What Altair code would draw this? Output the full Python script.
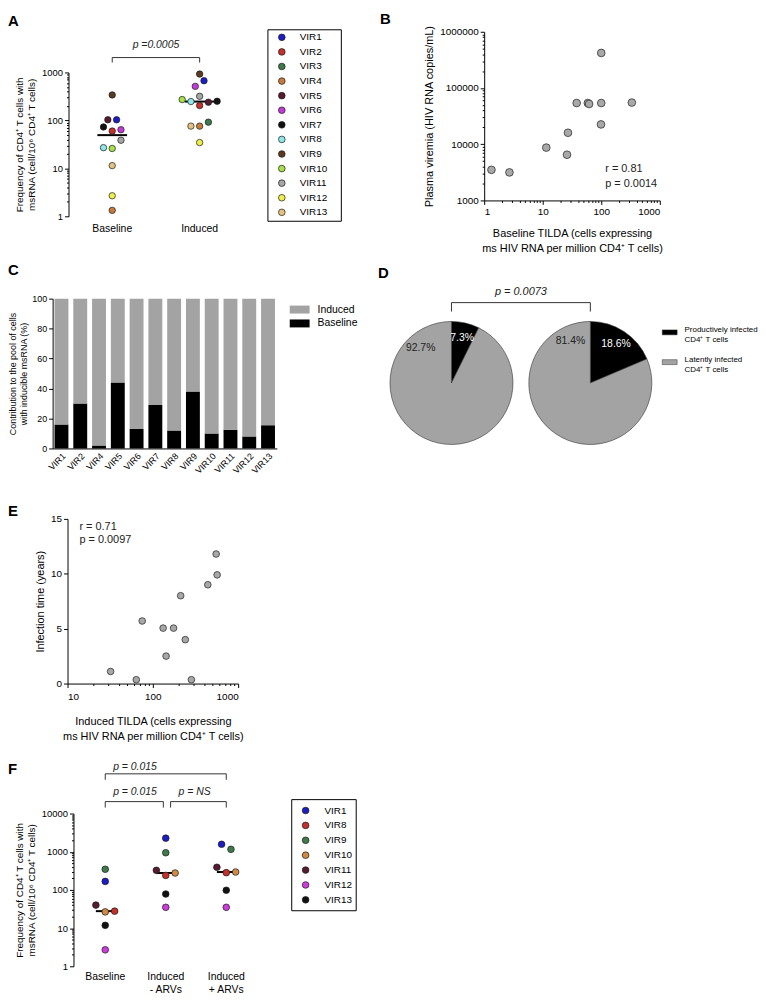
import json
import altair as alt
import pandas as pd

FONT = "Liberation Sans"

# ---------------- Panel A ----------------
vir_ids = ["VIR1", "VIR2", "VIR3", "VIR4", "VIR5", "VIR6", "VIR7",
           "VIR8", "VIR9", "VIR10", "VIR11", "VIR12", "VIR13"]
vir_colors = ["#1d1dc4", "#c4302b", "#3e7a4b", "#c47b3b", "#571b31", "#c13bd6",
              "#111111", "#8fe6e6", "#5b3a20", "#a5e04b", "#a6a6a6", "#efef4a", "#e3c27f"]
a_groups = ["Baseline", "Induced"]
a_baseline = [103, 60, None, 1.33, 103, 64, 73, 27, 340, 26, 38.6, 2.68, 11.4]
a_baseline_slot = [0.5, 0, None, 0, -0.5, 1, -1, -1, 0, 0, 1, 0, 0]
a_induced = [672, 204, 92, 76, 240, 513, 251, 247, 925, 272, 318, 34.5, 76]
a_induced_slot = [0.5, 0, 1, 0, 1, -0.5, 2, -1, 0, -2, 0, 0, -1]
a_brackets = [(0, 1, "p =0.0005")]

# ---------------- Panel B ----------------
b_tilda = [1.33, 2.7, 11.5, 26, 27, 38, 59, 62, 99, 100, 100, 333]
b_viremia = [3500, 3150, 8700, 6500, 16000, 54000, 54000, 52000, 22500, 420000, 54000, 55000]
b_stats = ["r = 0.81", "p = 0.0014"]

# ---------------- Panel C ----------------
c_ids = ["VIR1", "VIR2", "VIR4", "VIR5", "VIR6", "VIR7", "VIR8", "VIR9",
         "VIR10", "VIR11", "VIR12", "VIR13"]
c_baseline_pct = [16, 30, 2, 44, 13, 29, 12, 38, 10, 12.5, 8, 15.5]
c_parts = ["Induced", "Baseline"]

# ---------------- Panel D ----------------
d_groups = ["ART", "VIR"]
d_states = ["Productively infected|CD4\u207a T cells", "Latently infected|CD4\u207a T cells"]
d_productive = [7.3, 18.6]
d_latent = [92.7, 81.4]
d_brackets = [("ART", "VIR", "p = 0.0073")]

# ---------------- Panel E ----------------
e_induced = [552, 567, 441, 212, 75, 132, 175, 240, 143, 32, 64, 283]
e_years = [11.8, 9.9, 9.0, 8.0, 5.7, 5.05, 5.05, 4.0, 2.5, 1.1, 0.35, 0.35]
e_stats = ["r = 0.71", "p = 0.0097"]

# ---------------- Panel F ----------------
f_ids = ["VIR1", "VIR8", "VIR9", "VIR10", "VIR11", "VIR12", "VIR13"]
f_colors = ["#1d1dc4", "#c4302b", "#3e7a4b", "#d08a44", "#571b31", "#cc3ddc", "#111111"]
f_groups = ["Baseline", "Induced|- ARVs", "Induced|+ ARVs"]
f_baseline = [167, 27.8, 347, 26.6, 40, 2.7, 11.8]
f_baseline_slot = [0, 1, 0, 0, -1, 0, 0]
f_minus = [2260, 240, 940, 277, 326, 35, 78]
f_minus_slot = [0, 0, 0, 1, -1, 0, 0]
f_plus = [1566, 283, 1153, 294, 392, 35, 98]
f_plus_slot = [-0.5, 0, 0.5, 1, -1, 0, 0]
f_brackets_top = [(0, 2, "p = 0.015")]
f_brackets_low = [(0, 1, "p = 0.015"), (1, 2, "p = NS")]

FREQ_TITLE = ["Frequency of CD4\u207a T cells with", "msRNA (cell/10\u2076 CD4\u207a T cells)"]
TILDA_TAIL = "ms HIV RNA per million CD4\u207a T cells)"

ONE = pd.DataFrame({"k": [0]})


def minor_log(lo, hi):
    out = []
    for e in range(lo, hi):
        for m in range(2, 10):
            out.append(m * 10 ** e)
    return out


def letter(ch, x, y):
    return alt.Chart(ONE).mark_text(
        text=ch, align="left", baseline="top", fontSize=15, fontWeight="bold",
        font=FONT, color="black").encode(x=alt.value(x), y=alt.value(y))


def spacer(y):
    return alt.Chart(ONE).mark_rule(opacity=0).encode(
        x=alt.value(0), y=alt.value(y), y2=alt.value(y + 1))


def category_labels(names, xscale, y):
    df = pd.DataFrame({"gi": list(range(len(names))), "name": names})
    return alt.Chart(df).mark_text(
        align="center", baseline="top", fontSize=10.5, lineHeight=13, lineBreak="|",
        font=FONT, color="black").encode(
        x=alt.X("gi:Q", scale=xscale, axis=None), y=alt.value(y), text="name:N")


def bracket_layers(df, xscale, y_line, y_leg, y_text, align="center", dx=0, fsize=10.5):
    line = alt.Chart(df).mark_rule(color="#333333", strokeWidth=1).encode(
        x=alt.X("x1:Q", scale=xscale, axis=None),
        x2=alt.X2("x2"),
        y=alt.value(y_line))
    legs = alt.Chart(df).transform_fold(["x1", "x2"], as_=["side", "xv"]).mark_rule(
        color="#333333", strokeWidth=1).encode(
        x=alt.X("xv:Q", scale=xscale, axis=None),
        y=alt.value(y_line), y2=alt.value(y_leg))
    if align == "center":
        base = alt.Chart(df).transform_calculate(xm="(datum.x1 + datum.x2) / 2")
        xenc = alt.X("xm:Q", scale=xscale, axis=None)
    else:
        base = alt.Chart(df)
        xenc = alt.X("x1:Q", scale=xscale, axis=None)
    text = base.mark_text(align=align, dx=dx, baseline="middle", fontStyle="italic",
                          fontSize=fsize, font=FONT, color="#222222").encode(
        x=xenc, y=alt.value(y_text), text="label:N")
    return [line, legs, text]


def circle_legend(ids, colors, box_x, box_w, box_y0, box_y1, cx, tx, y_first, y_last):
    df = pd.DataFrame({"vir": ids})
    box = alt.Chart(ONE).mark_rect(fillOpacity=0, stroke="black", strokeWidth=1).encode(
        x=alt.value(box_x), x2=alt.value(box_x + box_w),
        y=alt.value(box_y0), y2=alt.value(box_y1))
    ys = alt.Scale(type="point", domain=ids, range=[y_first, y_last], padding=0)
    dots = alt.Chart(df).mark_circle(size=45, opacity=1, stroke="#1a1a1a",
                                     strokeWidth=0.7).encode(
        x=alt.value(cx), y=alt.Y("vir:N", scale=ys, axis=None),
        color=alt.Color("vir:N", scale=alt.Scale(domain=ids, range=colors), legend=None))
    texts = alt.Chart(df).mark_text(align="left", baseline="middle", fontSize=10,
                                    font=FONT, color="black").encode(
        x=alt.value(tx), y=alt.Y("vir:N", scale=ys, axis=None), text="vir:N")
    return [box, dots, texts]


def point_rows(ids, series):
    rows = []
    for gi, (vals, slots) in enumerate(series):
        for vid, val, sl in zip(ids, vals, slots):
            if val is not None:
                rows.append({"vir": vid, "gi": gi, "value": val, "slot": sl})
    return pd.DataFrame(rows)


# ======================= A =======================
SA = 16
df_a = point_rows(vir_ids, [(a_baseline, a_baseline_slot), (a_induced, a_induced_slot)])
A_W, A_H, A_TOP = 178, 186, 41
a_x = alt.Scale(domain=[-0.5, 1.52], range=[SA, SA + A_W], nice=False, zero=False)
a_y = alt.Scale(type="log", domain=[1, 1000], range=[A_H, A_TOP], nice=False)

a_med = alt.Chart(df_a).transform_aggregate(
    med="median(value)", groupby=["gi"]).transform_calculate(
    x1="datum.gi - 0.17", x2="datum.gi + 0.17").mark_rule(
    color="black", strokeWidth=2).encode(
    x=alt.X("x1:Q", scale=a_x, axis=None), x2="x2:Q",
    y=alt.Y("med:Q", scale=a_y, axis=None))

a_pts = alt.Chart(df_a).transform_calculate(
    xpos="datum.gi + datum.slot * 0.1").mark_circle(
    size=42, opacity=1, stroke="#1a1a1a", strokeWidth=0.7).encode(
    x=alt.X("xpos:Q", scale=a_x,
            axis=alt.Axis(values=[0, 1], labels=False, title=None, orient="bottom")),
    y=alt.Y("value:Q", scale=a_y,
            axis=alt.Axis(values=[1, 10, 100, 1000], format="d", title=FREQ_TITLE,
                          orient="left", titleFontSize=10, offset=-SA)),
    color=alt.Color("vir:N", scale=alt.Scale(domain=vir_ids, range=vir_colors), legend=None))

a_minor = alt.Chart(df_a).mark_circle(opacity=0).encode(
    y=alt.Y("value:Q", scale=a_y,
            axis=alt.Axis(values=minor_log(0, 3), labels=False, domain=False, tickSize=2,
                          title=None, orient="left", offset=-SA)))

df_a_brk = pd.DataFrame(a_brackets, columns=["x1", "x2", "label"])
chart_a = alt.layer(
    a_med, a_pts, a_minor, category_labels(a_groups, a_x, A_H + 8),
    *bracket_layers(df_a_brk, a_x, 26, 31, 13),
    *circle_legend(vir_ids, vir_colors, SA + 201, 74, -2, 191, SA + 215, SA + 233, 5.6, 182),
    letter("A", -45, -18),
).resolve_scale(y="independent").resolve_axis(y="independent").properties(
    width=A_W + SA, height=A_H)

# ======================= B =======================
df_b = pd.DataFrame({"tilda": b_tilda, "viremia": b_viremia})
B_W, B_H = 177, 170
b_x = alt.Scale(type="log", domain=[1, 1000], nice=False)
b_y = alt.Scale(type="log", domain=[1000, 1000000], nice=False)
b_pts = alt.Chart(df_b).mark_circle(size=60, color="#a8a8a8", opacity=1, stroke="#333333",
                                    strokeWidth=0.8).encode(
    x=alt.X("tilda:Q", scale=b_x,
            axis=alt.Axis(values=[1, 10, 100, 1000], format="d", orient="bottom",
                          title=["Baseline TILDA (cells expressing", TILDA_TAIL],
                          titleFontSize=11, labelFontSize=10, titlePadding=11,
                          titleLineHeight=15)),
    y=alt.Y("viremia:Q", scale=b_y,
            axis=alt.Axis(values=[1000, 10000, 100000, 1000000], format="d", orient="left",
                          title="Plasma viremia (HIV RNA copies/mL)", titleFontSize=11,
                          labelFontSize=10)))
b_minor = alt.Chart(df_b).mark_circle(opacity=0).encode(
    x=alt.X("tilda:Q", scale=b_x,
            axis=alt.Axis(values=minor_log(0, 3), labels=False, domain=False, tickSize=2,
                          title=None, orient="bottom")),
    y=alt.Y("viremia:Q", scale=b_y,
            axis=alt.Axis(values=minor_log(3, 6), labels=False, domain=False, tickSize=2,
                          title=None, orient="left")))
b_txt = alt.Chart(ONE).mark_text(
    text=b_stats, align="left", baseline="top", fontSize=11, lineHeight=15, font=FONT,
    color="#222222").encode(x=alt.value(122), y=alt.value(132))
chart_b = alt.layer(b_pts, b_minor, b_txt, letter("B", -105, -20)).resolve_axis(
    x="independent", y="independent").properties(width=B_W, height=B_H)

# ======================= C =======================
rows_c = []
for vid, b in zip(c_ids, c_baseline_pct):
    rows_c.append({"vir": vid, "part": "Baseline", "pct": b, "ord": 0})
    rows_c.append({"vir": vid, "part": "Induced", "pct": 100 - b, "ord": 1})
df_c = pd.DataFrame(rows_c)
C_W, C_H = 226, 151
RECT_WIDE = "M-1.5,-0.6H1.5V0.6H-1.5Z"
c_bars = alt.Chart(df_c).mark_bar().encode(
    x=alt.X("vir:N", sort=c_ids, scale=alt.Scale(paddingInner=0.26, paddingOuter=0.1),
            axis=alt.Axis(title=None, labelAngle=-45, ticks=False, labelFontSize=9,
                          labelPadding=3)),
    y=alt.Y("pct:Q", stack="zero", scale=alt.Scale(domain=[0, 100], nice=False),
            axis=alt.Axis(values=[0, 20, 40, 60, 80, 100],
                          title=["Contribution to the pool of cells", "with inducible msRNA (%)"],
                          titleFontSize=9, labelFontSize=9, titlePadding=3)),
    color=alt.Color("part:N", scale=alt.Scale(domain=c_parts, range=["#a3a3a3", "#000000"]),
                    legend=alt.Legend(title=None, orient="none", legendX=242, legendY=4,
                                      symbolType=RECT_WIDE, symbolSize=178, labelFontSize=10.5,
                                      rowPadding=1, symbolStrokeWidth=0, labelOffset=11)),
    order=alt.Order("ord:Q", sort="ascending"),
)
chart_c = alt.layer(c_bars, letter("C", -45, -36)).properties(width=C_W, height=C_H)

# ======================= D =======================
rows_d = []
for g, p, l in zip(d_groups, d_productive, d_latent):
    rows_d.append({"group": g, "state": d_states[0], "pct": p, "ord": 0})
    rows_d.append({"group": g, "state": d_states[1], "pct": l, "ord": 1})
df_d = pd.DataFrame(rows_d)
D_W, D_H = 264, 151
d_x = alt.Scale(type="point", domain=d_groups, padding=0.443)
d_theta = alt.Scale(domain=[0, 100], range=[0, 6.283185307])
d_base = alt.Chart(df_d).transform_window(
    cum="sum(pct)", groupby=["group"], sort=[alt.SortField("ord", order="ascending")]
).transform_calculate(start="datum.cum - datum.pct")
d_arcs = d_base.mark_arc(radius=62, stroke="#333333", strokeWidth=0.6).encode(
    x=alt.X("group:N", scale=d_x,
            axis=alt.Axis(title=None, domain=False, ticks=False, labelAngle=0,
                          labelFontSize=14, labelFontWeight="bold", labelPadding=9)),
    y=alt.value(85),
    theta=alt.Theta("start:Q", scale=d_theta, stack=None),
    theta2="cum:Q",
    color=alt.Color("state:N", scale=alt.Scale(domain=d_states, range=["#000000", "#a3a3a3"]),
                    legend=alt.Legend(title=None, orient="none", legendX=274, legendY=26,
                                      symbolType="M-1,-0.33H1V0.33H-1Z", symbolSize=225,
                                      labelFontSize=8, labelExpr="split(datum.label, '|')",
                                      rowPadding=10, symbolStrokeColor="#333333",
                                      symbolStrokeWidth=0.5, labelOffset=7,
                                      labelBaseline="alphabetic")))
d_lab = d_base.transform_calculate(
    ang="datum.ord == 0 ? datum.cum - datum.pct / 2 : (datum.group == 'ART' ? 88.5 : 93)",
    lab="format(datum.pct, '.1f') + '%'").mark_text(
    radius=47, fontSize=10.5, font=FONT).encode(
    x=alt.X("group:N", scale=d_x, axis=None),
    y=alt.value(85),
    theta=alt.Theta("ang:Q", scale=d_theta, stack=None),
    text="lab:N",
    color=alt.condition("datum.ord == 0", alt.value("white"), alt.value("#222222")))
df_d_brk = pd.DataFrame(d_brackets, columns=["x1", "x2", "label"])
d_brk_line = alt.Chart(df_d_brk).mark_rule(color="#333333").encode(
    x=alt.X("x1:N", scale=d_x, axis=None), x2=alt.X2("x2"), y=alt.value(4))
d_brk_legs = alt.Chart(df_d_brk).transform_fold(["x1", "x2"], as_=["side", "xv"]).mark_rule(
    color="#333333").encode(x=alt.X("xv:N", scale=d_x, axis=None),
                            y=alt.value(4), y2=alt.value(13))
d_brk_text = alt.Chart(df_d_brk).mark_text(fontStyle="italic", fontSize=11, font=FONT,
                                           color="#222222").encode(
    x=alt.value(D_W / 2), y=alt.value(-7), text="label:N")
chart_d = alt.layer(d_arcs, d_lab, d_brk_line, d_brk_legs, d_brk_text,
                    letter("D", -12, -33)).properties(width=D_W, height=D_H)

# ======================= E =======================
SE = 15
df_e = pd.DataFrame({"induced": e_induced, "years": e_years})
E_W, E_H = 172, 166
e_x = alt.Scale(type="log", domain=[10, 1000], range=[SE, SE + E_W], nice=False)
e_y = alt.Scale(domain=[0, 15], nice=False)
e_pts = alt.Chart(df_e).mark_circle(size=45, color="#a8a8a8", opacity=1, stroke="#333333",
                                    strokeWidth=0.8).encode(
    x=alt.X("induced:Q", scale=e_x,
            axis=alt.Axis(values=[10, 100, 1000], format="d", orient="bottom",
                          title=["Induced TILDA (cells expressing", TILDA_TAIL],
                          titleFontSize=11, labelFontSize=10, titlePadding=14,
                          titleLineHeight=15, labelPadding=4)),
    y=alt.Y("years:Q", scale=e_y,
            axis=alt.Axis(values=[0, 5, 10, 15], orient="left", offset=-SE,
                          title="Infection time (years)", titleFontSize=11, labelFontSize=10)))
e_minor = alt.Chart(df_e).mark_circle(opacity=0).encode(
    x=alt.X("induced:Q", scale=e_x,
            axis=alt.Axis(values=minor_log(1, 3), labels=False, domain=False, tickSize=2,
                          title=None, orient="bottom")))
e_txt = alt.Chart(ONE).mark_text(
    text=e_stats, align="left", baseline="top", fontSize=11, lineHeight=13.5, font=FONT,
    color="#222222").encode(x=alt.value(SE + 12), y=alt.value(2))
chart_e = alt.layer(e_pts, e_minor, e_txt, letter("E", -45, -15), spacer(-33)).resolve_axis(
    x="independent").properties(width=E_W + SE, height=E_H)

# ======================= F =======================
SF = 21
df_f = point_rows(f_ids, [(f_baseline, f_baseline_slot), (f_minus, f_minus_slot),
                          (f_plus, f_plus_slot)])
F_W, F_H = 185, 154
f_x = alt.Scale(domain=[-0.525, 2.508], range=[SF, SF + F_W], nice=False, zero=False)
f_y = alt.Scale(type="log", domain=[1, 10000], nice=False)
f_med = alt.Chart(df_f).transform_aggregate(
    med="median(value)", groupby=["gi"]).transform_calculate(
    x1="datum.gi - 0.155", x2="datum.gi + 0.155").mark_rule(
    color="black", strokeWidth=2).encode(
    x=alt.X("x1:Q", scale=f_x, axis=None), x2="x2:Q",
    y=alt.Y("med:Q", scale=f_y, axis=None))
f_pts = alt.Chart(df_f).transform_calculate(
    xpos="datum.gi + datum.slot * 0.155").mark_circle(
    size=45, opacity=1, stroke="#1a1a1a", strokeWidth=0.7).encode(
    x=alt.X("xpos:Q", scale=f_x,
            axis=alt.Axis(values=[0, 1, 2], labels=False, title=None, orient="bottom")),
    y=alt.Y("value:Q", scale=f_y,
            axis=alt.Axis(values=[1, 10, 100, 1000, 10000], format="d", title=FREQ_TITLE,
                          orient="left", titleFontSize=10, offset=-SF)),
    color=alt.Color("vir:N", scale=alt.Scale(domain=f_ids, range=f_colors), legend=None))
f_minor = alt.Chart(df_f).mark_circle(opacity=0).encode(
    y=alt.Y("value:Q", scale=f_y,
            axis=alt.Axis(values=minor_log(0, 4), labels=False, domain=False, tickSize=2,
                          title=None, orient="left", offset=-SF)))
df_f_top = pd.DataFrame(f_brackets_top, columns=["x1", "x2", "label"])
df_f_low = pd.DataFrame(f_brackets_low, columns=["x1", "x2", "label"])
df_f_low["x1"] = df_f_low["x1"] + (df_f_low["x1"] > 0) * 0.08
df_f_low["x2"] = df_f_low["x2"] - (df_f_low["x2"] < 2) * 0.04
chart_f = alt.layer(
    f_med, f_pts, f_minor, category_labels(f_groups, f_x, F_H + 6),
    *bracket_layers(df_f_top, f_x, -40, -34, -47, align="left", dx=8),
    *bracket_layers(df_f_low, f_x, -12, -6, -22, align="left", dx=8),
    *circle_legend(f_ids, f_colors, SF + 220, 65, -14, 98, SF + 234, SF + 253, -3, 87),
    letter("F", -45, -52), spacer(-63),
).resolve_scale(y="independent").resolve_axis(y="independent").properties(
    width=F_W + SF, height=F_H)

# ======================= layout =======================
row1 = alt.hconcat(chart_a, chart_b, spacing=38).resolve_scale(color="independent")
row2 = alt.hconcat(chart_c, chart_d, spacing=20).resolve_scale(color="independent")
full = alt.vconcat(row1, row2, chart_e, chart_f, spacing=10).resolve_scale(
    color="independent").properties(
    padding={"left": 0, "top": 0, "right": 0, "bottom": 0}
).configure(font=FONT).configure_view(stroke=None).configure_axis(
    domainColor="black", tickColor="black", labelColor="black", titleColor="black",
    grid=False, labelFont=FONT, titleFont=FONT, titleFontWeight="normal",
    labelFontSize=9.5, titleFontSize=10, tickSize=4, labelPadding=2, titlePadding=5,
    domainWidth=1, tickWidth=1
).configure_legend(labelFont=FONT, labelColor="black")

full.save("out.html", embed_options={"renderer": "svg", "actions": False})
